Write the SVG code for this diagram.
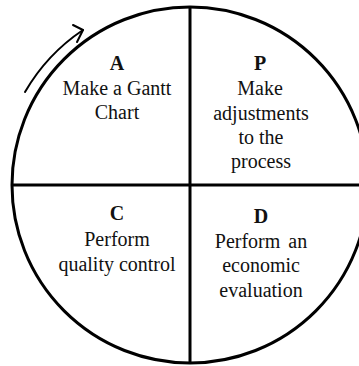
<svg xmlns="http://www.w3.org/2000/svg" width="359" height="366" viewBox="0 0 359 366">
  <style>
    .ring { fill: none; stroke: #000; stroke-width: 3; }
    .divider { stroke: #000; stroke-width: 3; }
    .flow { fill: none; stroke: #000; stroke-width: 2; stroke-linecap: round; stroke-linejoin: round; }
    text { font-family: "Liberation Serif", "Times New Roman", serif; font-size: 20px; fill: #111; text-anchor: middle; }
    .letter { font-weight: bold; }
  </style>
  <rect width="359" height="366" fill="#fff"/>

  <!-- cycle outline and quadrant dividers -->
  <g id="frame">
    <circle class="ring" cx="190" cy="185" r="178"/>
    <line class="divider" x1="190" y1="7" x2="190" y2="363"/>
    <line class="divider" x1="12" y1="185" x2="359" y2="185"/>
  </g>

  <!-- direction of the cycle -->
  <g id="connectors">
    <path class="flow" d="M 25 92 A 188 188 0 0 1 83 30"/>
    <path class="flow" d="M 73 25 L 83 30 L 77 42"/>
  </g>

  <g id="node-a">
    <text class="letter" x="117" y="70">A</text>
    <text x="117" y="95">Make a Gantt</text>
    <text x="117" y="119">Chart</text>
  </g>

  <g id="node-p">
    <text class="letter" x="260" y="70">P</text>
    <text x="260" y="95">Make</text>
    <text x="261" y="120">adjustments</text>
    <text x="261" y="144">to the</text>
    <text x="261" y="168">process</text>
  </g>

  <g id="node-c">
    <text class="letter" x="117" y="220">C</text>
    <text x="117" y="246">Perform</text>
    <text x="117" y="271">quality control</text>
  </g>

  <g id="node-d">
    <text class="letter" x="261" y="223">D</text>
    <text x="261" y="248" word-spacing="3">Perform an</text>
    <text x="261" y="272">economic</text>
    <text x="261" y="297">evaluation</text>
  </g>
</svg>
